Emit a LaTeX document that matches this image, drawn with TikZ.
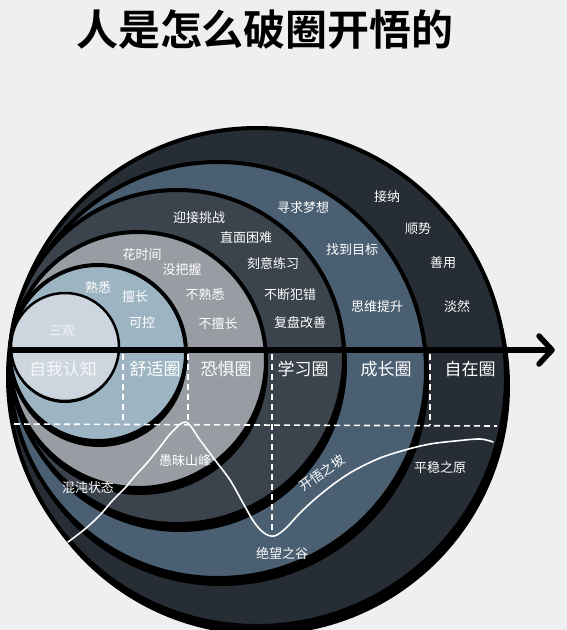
\documentclass[tikz,border=0pt]{standalone}
\usepackage{fontspec}
\newfontfamily\cjk{Noto Sans CJK SC}
\newfontfamily\cjktitle{Noto Sans CJK SC Bold}
\definecolor{bgcol}{HTML}{EEEFF1}
\definecolor{cA}{HTML}{CDD6DE}
\definecolor{cB}{HTML}{9DB4C2}
\definecolor{cC}{HTML}{989CA3}
\definecolor{cD}{HTML}{3B434C}
\definecolor{cE}{HTML}{4B5F73}
\definecolor{cF}{HTML}{262D35}
\begin{document}
\begin{tikzpicture}[x=1pt,y=-1pt,
  lbl/.style={text=white, font=\cjk\fontsize{13}{13}\selectfont, inner sep=0pt},
  faint/.style={lbl, text opacity=0.75},
  zone/.style={text=white, font=\cjk\fontsize{17}{17}\selectfont, inner sep=0pt},
  ring/.style={draw=black, line width=4pt},
  shadow/.style={fill=black},
  dashline/.style={draw=white, line width=1.6pt, dash pattern=on 6pt off 4pt},
  curve/.style={draw=white, line width=1.6pt, line cap=round, line join=round},
]
\fill[bgcol] (0,0) rectangle (567,630);
\useasboundingbox (0,0) rectangle (567,630);

% nested circles, outermost first, each with a dark shadow below
\fill[shadow] (261,386) circle[radius=249pt];
\filldraw[fill=cF, ring] (257,377) circle[radius=249pt];
\fill[shadow] (221,378) circle[radius=208pt];
\filldraw[fill=cE, ring] (218,370) circle[radius=208pt];
\fill[shadow] (180,365) circle[radius=167pt];
\filldraw[fill=cD, ring] (177,357) circle[radius=167pt];
\fill[shadow] (140,367) circle[radius=128pt];
\filldraw[fill=cC, ring] (138,360) circle[radius=128pt];
\fill[shadow] (99,359) circle[radius=88pt];
\filldraw[fill=cB, ring] (98,353) circle[radius=88pt];
\fill[shadow] (65,349) circle[radius=54pt];
\filldraw[fill=cA, line width=2.5pt, draw=black] (65,347) circle[radius=54pt];

% guide lines
\coordinate (h1) at (14,424);
\coordinate (h2) at (497,426);
\draw[dashline] (h1) -- (h2);
\coordinate (v1a) at (123,354); \coordinate (v1b) at (123,424);
\coordinate (v2a) at (188,354); \coordinate (v2b) at (188,424);
\coordinate (v3a) at (272,354); \coordinate (v3b) at (272,534);
\coordinate (v4a) at (430,354); \coordinate (v4b) at (430,425);
\draw[dashline] (v1a) -- (v1b);
\draw[dashline] (v2a) -- (v2b);
\draw[dashline] (v3a) -- (v3b);
\draw[dashline] (v4a) -- (v4b);

% axis with arrow
\coordinate (axL) at (10,350);
\coordinate (axR) at (552,350);
\draw[line width=5.5pt] (axL) -- (axR);
\draw[line width=5.5pt, line cap=round, line join=round] (539,336) -- (axR) -- (539,364);

% zone names
\node[zone, text opacity=0.8] (z1) at (63,369) {自我认知};
\node[zone] (z2) at (155,369) {舒适圈};
\node[zone] (z3) at (226,369) {恐惧圈};
\node[zone] (z4) at (303,369) {学习圈};
\node[zone] (z5) at (386,369) {成长圈};
\node[zone] (z6) at (470,369) {自在圈};

% words in each ring
\node[faint] (w0) at (62,331) {三观};
\node[lbl] (w1) at (98,287) {熟悉};
\node[lbl] (w2) at (135,296) {擅长};
\node[lbl] (w3) at (142,323) {可控};
\node[lbl] (w4) at (142,255) {花时间};
\node[lbl] (w5) at (182,270) {没把握};
\node[lbl] (w6) at (205,295) {不熟悉};
\node[lbl] (w7) at (218,323) {不擅长};
\node[lbl] (w8) at (199,218) {迎接挑战};
\node[lbl] (w9) at (246,238) {直面困难};
\node[lbl] (w10) at (273,263) {刻意练习};
\node[lbl] (w11) at (290,295) {不断犯错};
\node[lbl] (w12) at (300,323) {复盘改善};
\node[lbl] (w13) at (303,208) {寻求梦想};
\node[lbl] (w14) at (352,250) {找到目标};
\node[lbl] (w15) at (377,307) {思维提升};
\node[lbl] (w16) at (387,197) {接纳};
\node[lbl] (w17) at (418,229) {顺势};
\node[lbl] (w18) at (443,263) {善用};
\node[lbl] (w19) at (457,307) {淡然};

% the learning curve
\draw[curve] plot[smooth, tension=0.55] coordinates {
  (68,542) (85,529) (100,515) (113,500) (125,488) (135,476) (147,463)
  (160,447) (172,432) (186,422) (200,440) (215,460) (230,480) (243,503)
  (254,522) (264,533) (274,536) (285,529) (300,513) (315,499) (335,483)
  (355,470) (380,458) (405,450) (430,444) (455,441) (480,439) (493,442)};
\node[lbl] (k1) at (88,488) {混沌状态};
\node[lbl] (k2) at (185,461) {愚昧山峰};
\node[lbl] (k3) at (282,553) {绝望之谷};
\node[lbl, rotate=35] (k4) at (322,473) {开悟之坡};
\node[lbl] (k5) at (440,468) {平稳之原};

% title
\node[font=\cjktitle\fontsize{42}{42}\selectfont, inner sep=0pt] (title) at (265,30) {人是怎么破圈开悟的};
\end{tikzpicture}
\end{document}
